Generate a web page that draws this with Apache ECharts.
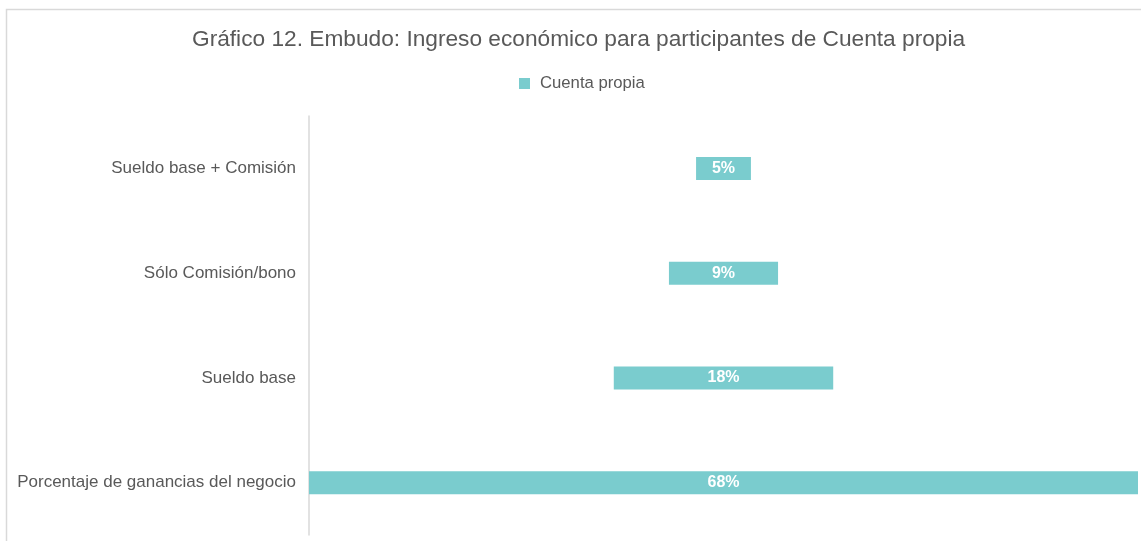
<!DOCTYPE html>
<html><head><meta charset="utf-8">
<script src="https://cdn.jsdelivr.net/npm/echarts@6/dist/echarts.min.js"></script>
<style>html,body{margin:0;padding:0;background:#fff}#c{width:1141px;height:541px}</style>
</head><body><div id="c"></div>
<script>
const categories = ["Porcentaje de ganancias del negocio", "Sueldo base", "Sólo Comisión/bono", "Sueldo base + Comisión"];
const values = [68, 18, 8.95, 4.5];
const seriesName = "Cuenta propia";
const titleText = "Gráfico 12. Embudo: Ingreso económico para participantes de Cuenta propia";

const maxV = Math.max(...values);
const offsets = values.map(v => (maxV - v) / 2);
const chart = echarts.init(document.getElementById('c'));
const font = "'Liberation Sans', Arial, Helvetica, sans-serif";
chart.setOption({
  animation: false,
  backgroundColor: '#fff',
  textStyle: {fontFamily: font},
  graphic: [{type: 'rect', shape: {x: 6.5, y: 9.5, width: 1200, height: 600}, style: {fill: 'none', stroke: '#d9d9d9', lineWidth: 1.5}, z: 0}],
  title: {text: titleText, left: 187, top: 23, textStyle: {fontFamily: font, fontSize: 22.7, fontWeight: 'normal', color: '#595959'}},
  legend: {data: [seriesName], top: 70, left: 514, icon: 'rect', itemWidth: 11, itemHeight: 11, itemGap: 6,
    textStyle: {fontFamily: font, fontSize: 16.7, color: '#595959', padding: [0, 0, 0, 5]}},
  grid: {left: 309, right: 3, top: 116, bottom: 6, containLabel: false},
  xAxis: {type: 'value', min: 0, max: maxV, show: false},
  yAxis: {type: 'category', data: categories,
    axisLine: {show: true, lineStyle: {color: '#d9d9d9', width: 1.5}},
    axisTick: {show: false},
    axisLabel: {fontFamily: font, fontSize: 17, color: '#595959', margin: 13}},
  series: [
    {type: 'bar', stack: 'f', data: offsets, itemStyle: {color: 'transparent'}, silent: true, barWidth: 23},
    {type: 'bar', stack: 'f', name: seriesName, data: values, barWidth: 23, itemStyle: {color: '#7ACCCE'},
      label: {show: true, position: 'inside', color: '#fff', fontWeight: 'bold', fontSize: 16, fontFamily: font,
        formatter: p => Math.round(p.value) + '%'}}
  ]
});
</script></body></html>
